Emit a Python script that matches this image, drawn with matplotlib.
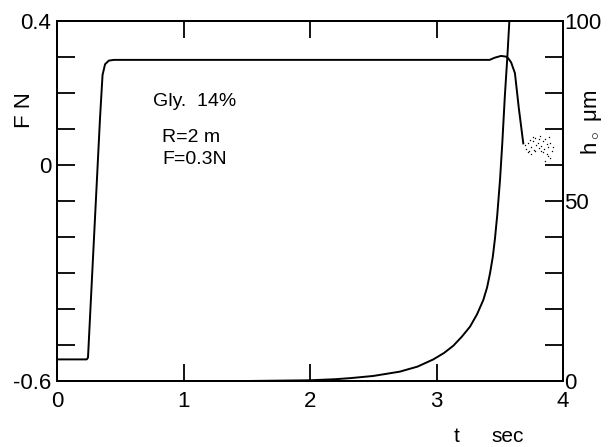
import matplotlib as mpl
import matplotlib.pyplot as plt

mpl.rcParams['font.family'] = ['Liberation Sans', 'DejaVu Sans']
mpl.rcParams['mathtext.fontset'] = 'custom'
mpl.rcParams['mathtext.rm'] = 'Liberation Sans'

W, H = 610, 447

# force F (N) vs time (s)
t_force = [0.0, 0.235, 0.245, 0.26, 0.30, 0.34, 0.36, 0.38, 0.41, 0.45, 1.0, 2.0, 3.0,
           3.42, 3.46, 3.51, 3.55, 3.568, 3.59, 3.62, 3.65, 3.686]
f_force = [-0.54, -0.54, -0.535, -0.43, -0.15, 0.13, 0.25, 0.28, 0.29, 0.292, 0.292, 0.292, 0.292,
           0.292, 0.298, 0.303, 0.301, 0.296, 0.285, 0.255, 0.16, 0.06]

# scattered trace after the drop
t_dots = [3.70, 3.71, 3.72, 3.73, 3.74, 3.75, 3.76, 3.77, 3.78, 3.79, 3.80, 3.81, 3.82, 3.83,
          3.84, 3.85, 3.86, 3.87, 3.88, 3.89, 3.90, 3.91, 3.72, 3.75, 3.78, 3.81, 3.84, 3.87,
          3.90, 3.76, 3.83, 3.88, 3.86, 3.92]
f_dots = [0.055, 0.045, 0.062, 0.040, 0.070, 0.050, 0.066, 0.042, 0.075, 0.055, 0.060, 0.048,
          0.080, 0.052, 0.068, 0.045, 0.072, 0.058, 0.050, 0.078, 0.062, 0.040, 0.035, 0.030,
          0.038, 0.072, 0.035, 0.030, 0.020, 0.078, 0.040, 0.025, 0.010, 0.050]

# film thickness h0 (um) vs time (s)
t_h = [0.0, 1.5, 2.0, 2.2, 2.32, 2.5, 2.71, 2.85, 2.975, 3.06, 3.133, 3.2, 3.265, 3.32, 3.37,
       3.40, 3.423, 3.445, 3.462, 3.48, 3.502, 3.52, 3.54, 3.56, 3.576]
h_h = [0.0, 0.0, 0.2, 0.5, 0.8, 1.4, 2.6, 4.0, 6.0, 7.8, 9.8, 12.3, 15.1, 18.5, 22.5,
       26.0, 29.9, 34.5, 39.5, 46.0, 55.8, 66.0, 79.0, 90.0, 100.0]

x_ticks = [0, 1, 2, 3, 4]
f_ticks = [-0.6, -0.5, -0.4, -0.3, -0.2, -0.1, 0.0, 0.1, 0.2, 0.3, 0.4]
f_labels = ['-0.6', '', '', '', '', '', '0', '', '', '', '0.4']
h_ticks = [0, 10, 20, 30, 40, 50, 60, 70, 80, 90, 100]
h_labels = ['0', '', '', '', '', '50', '', '', '', '', '100']

fig = plt.figure(figsize=(W / 100, H / 100), dpi=100)
ax = fig.add_axes([57 / W, 1 - 381 / H, (563 - 57) / W, (381 - 21) / H])
ax2 = ax.twinx()

ax.plot(t_force, f_force, color='black', lw=1.4, solid_joinstyle='round')
ax.scatter(t_dots, f_dots, s=1.0, color='black', linewidths=0)
ax2.plot(t_h, h_h, color='black', lw=1.4)

ax.set_xlim(0, 4)
ax.set_ylim(-0.6, 0.4)
ax2.set_ylim(0, 100)

ax.set_xticks(x_ticks)
ax.set_xticklabels([str(v) for v in x_ticks])
ax.set_yticks(f_ticks)
ax.set_yticklabels(f_labels)
ax2.set_yticks(h_ticks)
ax2.set_yticklabels(h_labels)

ax.tick_params(axis='x', direction='in', length=12, width=1.3, labelsize=16, pad=7,
               top=True)
ax.tick_params(axis='y', direction='in', length=13, width=1.3, labelsize=16, pad=4)
ax2.tick_params(axis='y', direction='in', length=13, width=1.3, labelsize=16, pad=1)
for a in (ax, ax2):
    for s in a.spines.values():
        s.set_linewidth(1.4)

fig.text(25 / W, 1 - 110 / H, 'F N', rotation=90, ha='center', va='center', fontsize=16)
fig.text(592 / W, 1 - 122 / H, 'h$_\\circ$ μm', rotation=90, ha='center', va='center',
         fontsize=16)
fig.text(457 / W, 1 - 437 / H, 't', ha='center', va='center', fontsize=15)
fig.text(508 / W, 1 - 437 / H, 'sec', ha='center', va='center', fontsize=15)

fig.text(153 / W, 1 - 102 / H, 'Gly.  14%', ha='left', va='center', fontsize=14)
fig.text(162 / W, 1 - 137 / H, 'R=2 m', ha='left', va='center', fontsize=14)
fig.text(162 / W, 1 - 159 / H, 'F=0.3N', ha='left', va='center', fontsize=14)

fig.savefig('out.png', dpi=100)
